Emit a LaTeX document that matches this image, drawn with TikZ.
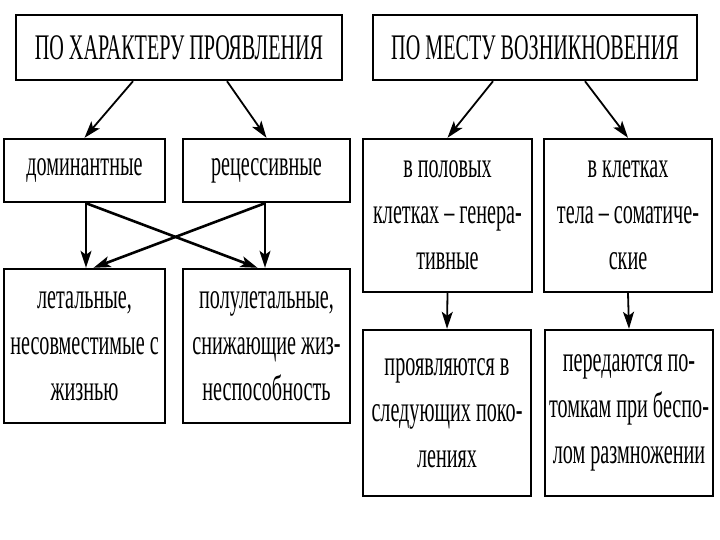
\documentclass[tikz,border=0pt]{standalone}
\usepackage{fontspec}
\setmainfont{Liberation Serif}[FakeStretch=0.56]
\usetikzlibrary{arrows.meta}

\begin{document}
\begin{tikzpicture}[x=1pt,y=-1pt,
  box/.style={draw,line width=2.4pt,inner sep=0pt,align=center,
    font=\fontsize{36}{46}\selectfont},
  arr/.style={line width=1.8pt,-{Stealth[length=17pt,width=11pt,inset=4pt]}},
  cross/.style={arr,line width=2.6pt}]
  \useasboundingbox (0,0) rectangle (720,540);

  \node[box,minimum width=326,minimum height=65] (hdrA) at (179,47.5) {ПО ХАРАКТЕРУ ПРОЯВЛЕНИЯ};
  \node[box,minimum width=324,minimum height=65] (hdrB) at (535,47.5) {ПО МЕСТУ ВОЗНИКНОВЕНИЯ};

  \node[box,minimum width=161,minimum height=63] (dom) at (84.5,170.5) {доминантные};
  \node[box,minimum width=167,minimum height=63] (rec) at (266.5,170.5) {рецессивные};
  \node[box,minimum width=161,minimum height=154] (lethal) at (84.5,346)
    {летальные,\\несовместимые с\\жизнью};
  \node[box,minimum width=167,minimum height=154] (semi) at (266.5,346)
    {полулетальные,\\снижающие жиз-\\неспособность};

  \node[box,minimum width=169,minimum height=153] (germ) at (447.5,215.5)
    {в половых\\клетках -- генера-\\тивные};
  \node[box,minimum width=168,minimum height=153] (soma) at (628,215.5)
    {в клетках\\тела -- соматиче-\\ские};
  \node[box,minimum width=168,minimum height=166] (nextgen) at (447,413)
    {проявляются в\\следующих поко-\\лениях};
  \node[box,minimum width=168,minimum height=166] (asex) at (629,413)
    {передаются по-\\томкам при беспо-\\лом размножении};

  \draw[arr] ([xshift=-46]hdrA.south) -- (dom.north);
  \draw[arr] ([xshift=48]hdrA.south) -- (rec.north);
  \draw[arr] ([xshift=-42]hdrB.south) -- (germ.north);
  \draw[arr] ([xshift=50]hdrB.south) -- (soma.north);

  \draw[arr] ([xshift=1.5]dom.south) -- ([xshift=1.5]lethal.north);
  \draw[arr] ([xshift=-1.5]rec.south) -- ([xshift=-1.5]semi.north);
  \draw[cross] ([xshift=1.5]dom.south) -- ([xshift=-9]semi.north);
  \draw[cross] ([xshift=-1.5]rec.south) -- ([xshift=9]lethal.north);

  \draw[arr] (germ.south) -- (nextgen.north);
  \draw[arr] (soma.south) -- (asex.north);
\end{tikzpicture}
\end{document}
